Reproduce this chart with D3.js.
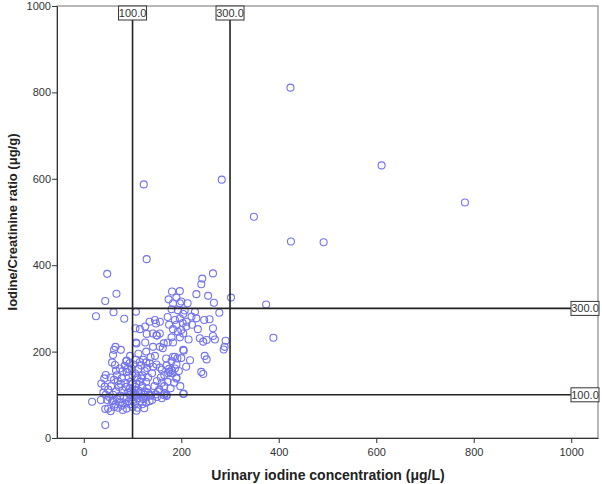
<!DOCTYPE html>
<html>
<head>
<meta charset="utf-8">
<script src="https://cdn.jsdelivr.net/npm/d3@7"></script>
<style>
  body { margin: 0; background: #fff; }
  svg { display: block; font-family: "Liberation Sans", Arial, sans-serif; }
  .tick text { fill: #333; font-size: 11px; }
  .axis path, .axis line { stroke: #333; }
</style>
</head>
<body>
<script>
// values (x = urinary iodine ug/L, y = I/Cr ratio ug/g)
const outliers = [[424,811],[611,631],[782,545],[349,512],[425,455],[492,453],[283,598],[123,587],[129,414],[374,309],[389,232],[302,325]];

const upperLeft = [[48,380],[67,334],[44,317],[107,292],[61,291],[25,282],[83,276],[148,265],[126,258],[115,252],[106,254],[129,241],[150,237],[107,221],[126,221],[164,219],[156,211],[65,211],[62,204],[76,204],[128,200],[135,269],[146,273],[156,269],[142,242],[149,238],[156,242],[142,211],[162,208],[108,219]];

const upperRight = [[265,381],[243,369],[241,356],[231,333],[255,329],[267,313],[278,290],[181,339],[197,340],[174,321],[190,325],[200,316],[213,312],[183,312],[197,312],[180,298],[193,296],[207,295],[228,292],[204,287],[221,281],[231,277],[187,273],[197,277],[211,269],[247,273],[258,275],[234,252],[265,254],[183,252],[193,246],[200,250],[204,242],[265,236],[269,228],[180,233],[197,233],[238,231],[252,227],[245,223],[215,228],[291,225],[172,221],[183,221],[204,204],[287,205],[289,211],[205,202],[248,190],[252,182],[183,188],[187,188],[192,184],[175,262],[190,262],[210,258],[222,262],[172,280],[203,266]];

const midRight = [[135,173],[142,165],[149,170],[156,163],[160,158],[190,140],[190,138],[241,153],[245,148],[166,103],[170,97],[170,100],[204,102],[205,103],[169,184],[137,187],[146,190],[165,146],[158,140],[150,132],[172,130],[185,128],[175,160],[180,178],[190,170],[195,155],[200,185],[210,165],[218,180],[165,120],[178,115],[140,150],[145,120],[155,112],[160,92],[135,100],[140,88],[150,95],[152,108],[160,128],[182,150],[198,120],[170,168],[176,153],[180,157],[173,150],[187,161],[148,101],[165,99]];

const leftDense = [[87,178],[107,181],[122,181],[64,169],[45,146],[36,126],[17,84],[44,67],[44,30],[108,63],[124,69],[60,192],[88,179],[94,173],[84,167],[98,161],[88,153],[74,161],[43,119],[55,140],[62,135],[70,132],[78,138],[85,128],[92,140],[100,145],[105,150],[112,160],[118,168],[125,155],[130,162],[110,140],[115,130],[120,120],[100,125],[95,115],[90,105],[80,110],[72,118],[66,108],[60,100],[52,95],[45,100],[40,105],[35,88],[48,88],[58,85],[68,90],[75,98],[82,92],[88,95],[95,100],[102,105],[108,98],[112,110],[118,102],[125,108],[130,115],[100,88],[92,85],[85,80],[78,75],[70,70],[62,72],[55,62],[50,68],[65,78],[75,82],[95,78],[105,80],[115,85],[122,90],[128,95],[110,70],[100,72],[88,68],[80,65],[120,78],[60,88],[50,112],[42,138],[56,120],[68,145],[80,155],[96,130],[108,125],[118,138],[128,130],[104,112],[86,118],[76,125],[66,156],[58,175],[95,190],[112,195],[120,145],[132,140],[128,175],[90,160],[102,170],[115,176],[100,95],[104,100],[110,92],[118,96],[125,100],[132,105],[138,98],[112,104],[97,108],[106,118],[135,85],[128,82]];

const xTicks = [0, 200, 400, 600, 800, 1000];
const yTicks = [0, 200, 400, 600, 800, 1000];
const xRefs = [100, 300];
const yRefs = [100, 300];

const points = [].concat(outliers, upperLeft, upperRight, midRight, leftDense);

const width = 602, height = 484;
const margin = {top: 6, right: 4, bottom: 46, left: 57};

const x = d3.scaleLinear().domain([-55, 1055]).range([margin.left, width - margin.right]);
const y = d3.scaleLinear().domain([0, 1000]).range([height - margin.bottom, margin.top]);

const svg = d3.select("body").append("svg")
    .attr("width", width)
    .attr("height", height);

// frame
svg.append("rect")
    .attr("x", margin.left).attr("y", margin.top)
    .attr("width", width - margin.left - margin.right)
    .attr("height", height - margin.top - margin.bottom)
    .attr("fill", "none")
    .attr("stroke", "#888")
    .attr("stroke-width", 1.2);

svg.append("g")
    .attr("class", "axis")
    .attr("transform", "translate(0," + (height - margin.bottom) + ")")
    .call(d3.axisBottom(x).tickValues(xTicks).tickSize(5).tickSizeOuter(0).tickFormat(d3.format("d")))
    .call(g => g.selectAll("text").attr("dy", "0.95em"));

svg.append("g")
    .attr("class", "axis")
    .attr("transform", "translate(" + margin.left + ",0)")
    .call(d3.axisLeft(y).tickValues(yTicks).tickSize(5).tickSizeOuter(0).tickFormat(d3.format("d")))
    .call(g => g.selectAll("text").attr("x", -6));

// points
svg.append("g")
    .selectAll("circle")
    .data(points)
    .enter().append("circle")
    .attr("cx", d => x(d[0]))
    .attr("cy", d => y(d[1]))
    .attr("r", 3.5)
    .attr("fill", "none")
    .attr("stroke", "#7373ee")
    .attr("stroke-width", 1.1);

// reference lines
const refs = svg.append("g");
refs.selectAll(".vref")
    .data(xRefs)
    .enter().append("line")
    .attr("x1", d => x(d)).attr("x2", d => x(d))
    .attr("y1", margin.top).attr("y2", height - margin.bottom)
    .attr("stroke", "#222").attr("stroke-width", 1.6);
refs.selectAll(".href")
    .data(yRefs)
    .enter().append("line")
    .attr("x1", margin.left).attr("x2", width - margin.right)
    .attr("y1", d => y(d)).attr("y2", d => y(d))
    .attr("stroke", "#222").attr("stroke-width", 1.6);

const fmt = d3.format(".1f");
const bw = 28, bh = 14;

const vlab = refs.selectAll(".vlab")
    .data(xRefs)
    .enter().append("g")
    .attr("transform", d => "translate(" + (x(d) - bw / 2) + "," + margin.top + ")");
vlab.append("rect")
    .attr("width", bw).attr("height", bh)
    .attr("fill", "#fff").attr("stroke", "#333");
vlab.append("text")
    .attr("x", bw / 2).attr("y", 11)
    .attr("text-anchor", "middle")
    .style("font-size", "11px").attr("fill", "#333")
    .text(d => fmt(d));

const hlab = refs.selectAll(".hlab")
    .data(yRefs)
    .enter().append("g")
    .attr("transform", d => "translate(" + (width - margin.right - bw + 1) + "," + (y(d) - bh / 2) + ")");
hlab.append("rect")
    .attr("width", bw).attr("height", bh)
    .attr("fill", "#fff").attr("stroke", "#333");
hlab.append("text")
    .attr("x", bw / 2).attr("y", 11)
    .attr("text-anchor", "middle")
    .style("font-size", "11px").attr("fill", "#333")
    .text(d => fmt(d));

// axis titles
svg.append("text")
    .attr("x", 328)
    .attr("y", 480)
    .attr("text-anchor", "middle")
    .style("font-size", "14px").style("font-weight", "bold")
    .attr("fill", "#222")
    .text("Urinary iodine concentration (μg/L)");

svg.append("text")
    .attr("transform", "translate(17," + ((margin.top + height - margin.bottom) / 2) + ") rotate(-90)")
    .attr("text-anchor", "middle")
    .style("font-size", "13px").style("font-weight", "bold")
    .attr("fill", "#222")
    .text("Iodine/Creatinine ratio (μg/g)");
</script>
</body>
</html>
